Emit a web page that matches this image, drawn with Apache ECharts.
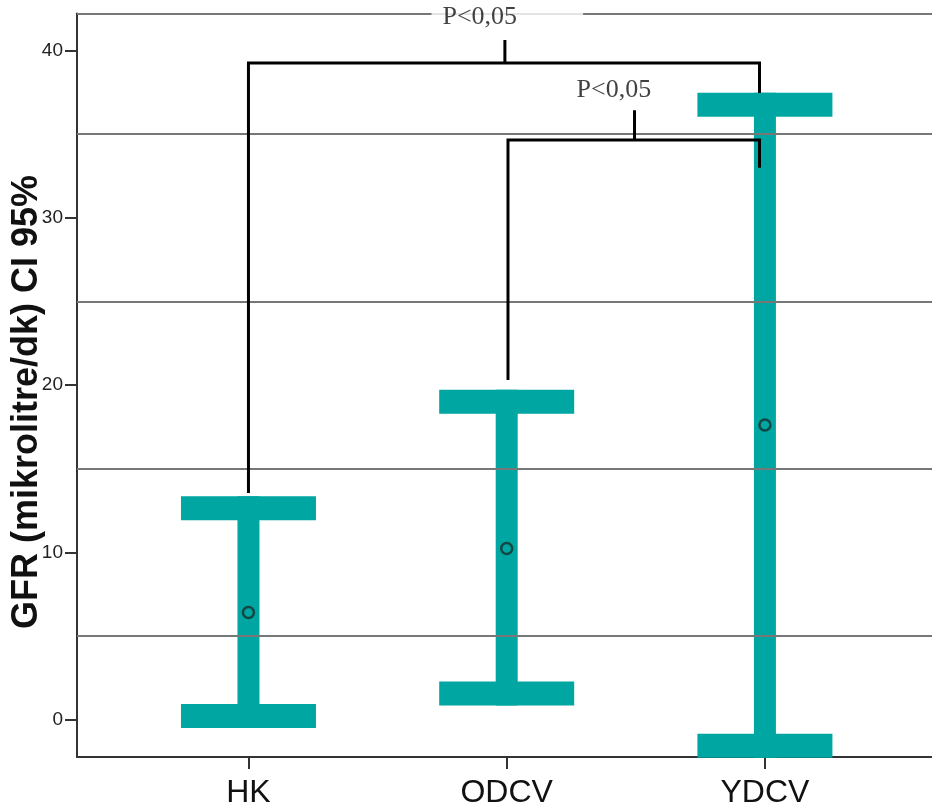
<!DOCTYPE html>
<html>
<head>
<meta charset="utf-8">
<script src="https://cdn.jsdelivr.net/npm/echarts@6/dist/echarts.min.js"></script>
<style>
  html, body { margin: 0; padding: 0; background: #fff; }
  #chart { width: 932px; height: 811px; }
</style>
</head>
<body>
<div id="chart"></div>
<script>
// Groups and their 95% confidence intervals for GFR
const categories = ['HK', 'ODCV', 'YDCV'];
const groupPos = [1, 2, 3];
const ciLower = [0.21, 1.56, -1.56];
const ciUpper = [12.63, 19.01, 36.77];
const means = [6.40, 10.23, 17.61];

// Axis ticks and reference lines
const yTicks = [0, 10, 20, 30, 40];
const gridValues = [5, 15, 25, 35];
const yMin = -2.24, yMax = 42.22;
const xMin = 0.336, xMax = 3.647;

// Significance brackets (data coordinates)
const bracketOuter = [[1, 13.54], [1, 39.26], [2.979, 39.26], [2.979, 37.47]];
const bracketOuterTick = [[1.993, 39.26], [1.993, 40.64]];
const bracketInner = [[2.005, 20.3], [2.005, 34.65], [2.979, 34.65], [2.979, 33.0]];
const bracketInnerTick = [[2.495, 34.65], [2.495, 36.44]];
const pLabels = ['P<0,05', 'P<0,05'];
const pLabelPos = [[1.859, 42.0], [2.415, 37.65]];

const TEAL = '#00a6a1';
const GRID_GRAY = '#777';
const AXIS_DARK = '#333';
const SANS = '"Liberation Sans Narrow", "Arial Narrow", "Liberation Sans", Arial, sans-serif';
const SERIF = '"Liberation Serif", "Times New Roman", serif';

const chart = echarts.init(document.getElementById('chart'), null, { renderer: 'canvas' });

const errData = groupPos.map((x, i) => [x, ciLower[i], ciUpper[i]]);
const meanData = groupPos.map((x, i) => [x, means[i]]);

const option = {
  animation: false,
  backgroundColor: '#fff',
  grid: { left: 77, right: 0, top: 13.5, bottom: 54, containLabel: false },
  xAxis: {
    type: 'value',
    min: xMin,
    max: xMax,
    axisLine: { show: true, onZero: false, lineStyle: { color: AXIS_DARK, width: 2 } },
    axisTick: { show: true, customValues: groupPos, length: 12, lineStyle: { color: AXIS_DARK, width: 2 } },
    axisLabel: {
      customValues: groupPos,
      formatter: v => categories[Math.round(v) - 1] || '',
      fontFamily: SANS, fontSize: 32, color: '#111', margin: 20
    },
    splitLine: { show: false }
  },
  yAxis: {
    type: 'value',
    min: yMin,
    max: yMax,
    axisLine: { show: true, onZero: false, lineStyle: { color: AXIS_DARK, width: 2 } },
    axisTick: { show: true, customValues: yTicks, length: 12, lineStyle: { color: AXIS_DARK, width: 2 } },
    axisLabel: {
      customValues: yTicks,
      fontFamily: SANS, fontSize: 19, color: '#222', margin: 14
    },
    splitLine: { show: false }
  },
  graphic: [{
    type: 'text',
    x: 27, y: 402,
    rotation: Math.PI / 2,
    style: {
      text: 'GFR (mikrolitre/dk) CI 95%',
      font: 'bold 36px "Liberation Sans", Arial, sans-serif',
      fill: '#111',
      textAlign: 'center',
      textVerticalAlign: 'middle'
    }
  }],
  series: [
    {
      // horizontal reference lines and top frame
      type: 'line',
      data: [],
      z: 1,
      silent: true,
      markLine: {
        silent: true,
        symbol: 'none',
        label: { show: false },
        lineStyle: { color: GRID_GRAY, width: 2, type: 'solid' },
        data: gridValues.concat([yMax]).map(v => ({ yAxis: v }))
      }
    },
    {
      type: 'custom',
      z: 3,
      clip: false,
      data: errData,
      renderItem: function (params, api) {
        const x = api.value(0), lo = api.value(1), hi = api.value(2);
        const pLo = api.coord([x, lo]);
        const pHi = api.coord([x, hi]);
        const capW = 135, capH = 24, stemW = 22;
        const style = { fill: TEAL };
        return {
          type: 'group',
          children: [
            { type: 'rect', shape: { x: pLo[0] - stemW / 2, y: pHi[1] - capH / 2, width: stemW, height: pLo[1] - pHi[1] + capH }, style },
            { type: 'rect', shape: { x: pHi[0] - capW / 2, y: pHi[1] - capH / 2, width: capW, height: capH }, style },
            { type: 'rect', shape: { x: pLo[0] - capW / 2, y: pLo[1] - capH / 2, width: capW, height: capH }, style }
          ]
        };
      }
    },
    {
      type: 'scatter',
      z: 4,
      data: meanData,
      symbol: 'circle',
      symbolSize: 11,
      itemStyle: { color: 'rgba(0,0,0,0)', borderColor: '#15302e', borderWidth: 2.5 }
    },
    {
      type: 'lines',
      coordinateSystem: 'cartesian2d',
      polyline: true,
      z: 5,
      silent: true,
      lineStyle: { color: '#000', width: 3, opacity: 1 },
      data: [
        { coords: bracketOuter },
        { coords: bracketOuterTick },
        { coords: bracketInner },
        { coords: bracketInnerTick }
      ]
    },
    {
      type: 'scatter',
      z: 6,
      symbolSize: 0,
      silent: true,
      data: [
        {
          value: pLabelPos[0],
          label: {
            show: true, position: 'inside', formatter: pLabels[0],
            fontFamily: SERIF, fontSize: 26, color: '#111',
            backgroundColor: '#fff', padding: [0, 66, 0, 11], offset: [37, 0]
          }
        },
        {
          value: pLabelPos[1],
          label: {
            show: true, position: 'inside', formatter: pLabels[1],
            fontFamily: SERIF, fontSize: 26, color: '#111'
          }
        }
      ]
    }
  ]
};

chart.setOption(option);
</script>
</body>
</html>
